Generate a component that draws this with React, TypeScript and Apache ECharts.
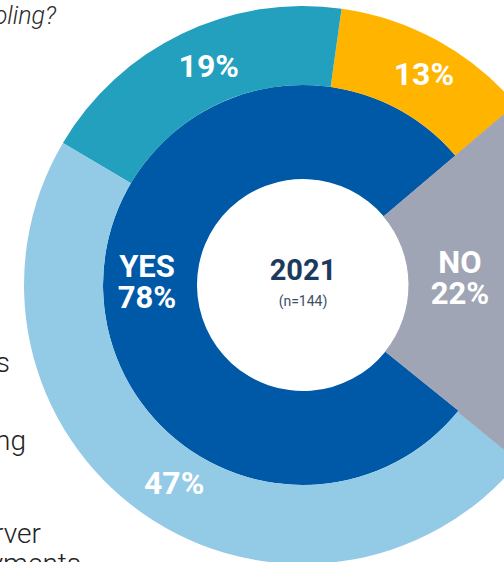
import React, { useEffect, useRef } from "react";
import * as echarts from "echarts";

// Inner ring: answer split
const innerNames = ["YES", "NO"];
const innerValues = [78, 22];
// Outer ring: breakdown of YES (angular share) + NO remainder
const outerNames = ["Yellow", "Teal", "LightBlue", "NO"];
const outerValues = [11.6, 18.7, 47.6, 22.1];
const outerLabels = ["13%", "19%", "47%", ""];
// Center texts
const centerYear = "2021";
const centerN = "(n=144)";
// Cut-off texts of the left-hand legend
const leftTexts = ["oling?", "s", "ng", "rver", "yments"];

const DARK_BLUE = "#0059A7";
const GRAY = "#A0A5B5";
const YELLOW = "#FFB400";
const TEAL = "#23A0BD";
const LIGHT_BLUE = "#93CAE6";

export default function App() {
  const ref = useRef<HTMLDivElement>(null);
  useEffect(() => {
    document.body.style.margin = "0";
    const chart = echarts.init(ref.current!, null, { renderer: "svg" });
    const innerColors = [DARK_BLUE, GRAY];
    const outerColors = [YELLOW, TEAL, LIGHT_BLUE, GRAY];
    const innerOffsets = [
      [0, -5],
      [1, -5],
    ];
    const outerOffsets = [
      [4, 1],
      [11, -1],
      [10, -1],
      [0, 0],
    ];
    const labelStyle = {
      color: "#ffffff",
      fontFamily: "Roboto",
      fontWeight: "bold" as const,
      fontSize: 31,
      lineHeight: 31,
    };
    const option = {
      animation: false,
      backgroundColor: "#ffffff",
      series: [
        {
          type: "pie",
          silent: true,
          center: [303, 285],
          radius: [106, 200],
          startAngle: 40.3,
          clockwise: false,
          avoidLabelOverlap: false,
          label: {
            show: true,
            position: "inside",
            formatter: (p: any) => `${p.name}\n${p.value}%`,
            ...labelStyle,
          },
          labelLine: { show: false },
          labelLayout: (p: any) => ({
            dx: innerOffsets[p.dataIndex][0],
            dy: innerOffsets[p.dataIndex][1],
          }),
          data: innerNames.map((n, i) => ({
            name: n,
            value: innerValues[i],
            itemStyle: {
              color: innerColors[i],
              borderColor: innerColors[i],
              borderWidth: i === 1 ? 1 : 0,
            },
          })),
        },
        {
          type: "pie",
          silent: true,
          center: [303, 285],
          radius: [200, 279],
          startAngle: 40.3,
          clockwise: false,
          avoidLabelOverlap: false,
          label: {
            show: true,
            position: "inside",
            formatter: (p: any) => outerLabels[p.dataIndex],
            ...labelStyle,
            fontSize: 32,
          },
          labelLine: { show: false },
          labelLayout: (p: any) => ({
            dx: outerOffsets[p.dataIndex][0],
            dy: outerOffsets[p.dataIndex][1],
          }),
          data: outerNames.map((n, i) => ({
            name: n,
            value: outerValues[i],
            itemStyle: {
              color: outerColors[i],
              borderColor: outerColors[i],
              borderWidth: i === 3 ? 1 : 0,
            },
          })),
        },
      ],
      graphic: [
        {
          type: "text",
          x: 303,
          y: 270,
          style: {
            text: centerYear,
            fill: "#1B3A5C",
            font: "bold 29px Roboto",
            align: "center",
            verticalAlign: "middle",
          },
        },
        {
          type: "text",
          x: 303,
          y: 301,
          style: {
            text: centerN,
            fill: "#3D4F66",
            font: "14px Roboto",
            align: "center",
            verticalAlign: "middle",
          },
        },
        {
          type: "text",
          x: 56,
          y: 15,
          style: {
            text: leftTexts[0],
            fill: "#2A2A2A",
            fontFamily: "Roboto",
            fontStyle: "italic",
            fontWeight: 300,
            fontSize: 25,
            align: "right",
            verticalAlign: "middle",
          },
        },
        {
          type: "text",
          x: 10,
          y: 362,
          style: {
            text: leftTexts[1],
            fill: "#222222",
            font: "300 28px Roboto",
            align: "right",
            verticalAlign: "middle",
          },
        },
        {
          type: "text",
          x: 26,
          y: 440,
          style: {
            text: leftTexts[2],
            fill: "#222222",
            font: "300 28px Roboto",
            align: "right",
            verticalAlign: "middle",
          },
        },
        {
          type: "text",
          x: 41,
          y: 533,
          style: {
            text: leftTexts[3],
            fill: "#222222",
            font: "300 28px Roboto",
            align: "right",
            verticalAlign: "middle",
          },
        },
        {
          type: "text",
          x: 81,
          y: 563,
          style: {
            text: leftTexts[4],
            fill: "#222222",
            font: "300 28px Roboto",
            align: "right",
            verticalAlign: "middle",
          },
        },
      ],
    };
    chart.setOption(option as any);
    return () => chart.dispose();
  }, []);
  return <div ref={ref} style={{ width: 504, height: 562 }} />;
}
